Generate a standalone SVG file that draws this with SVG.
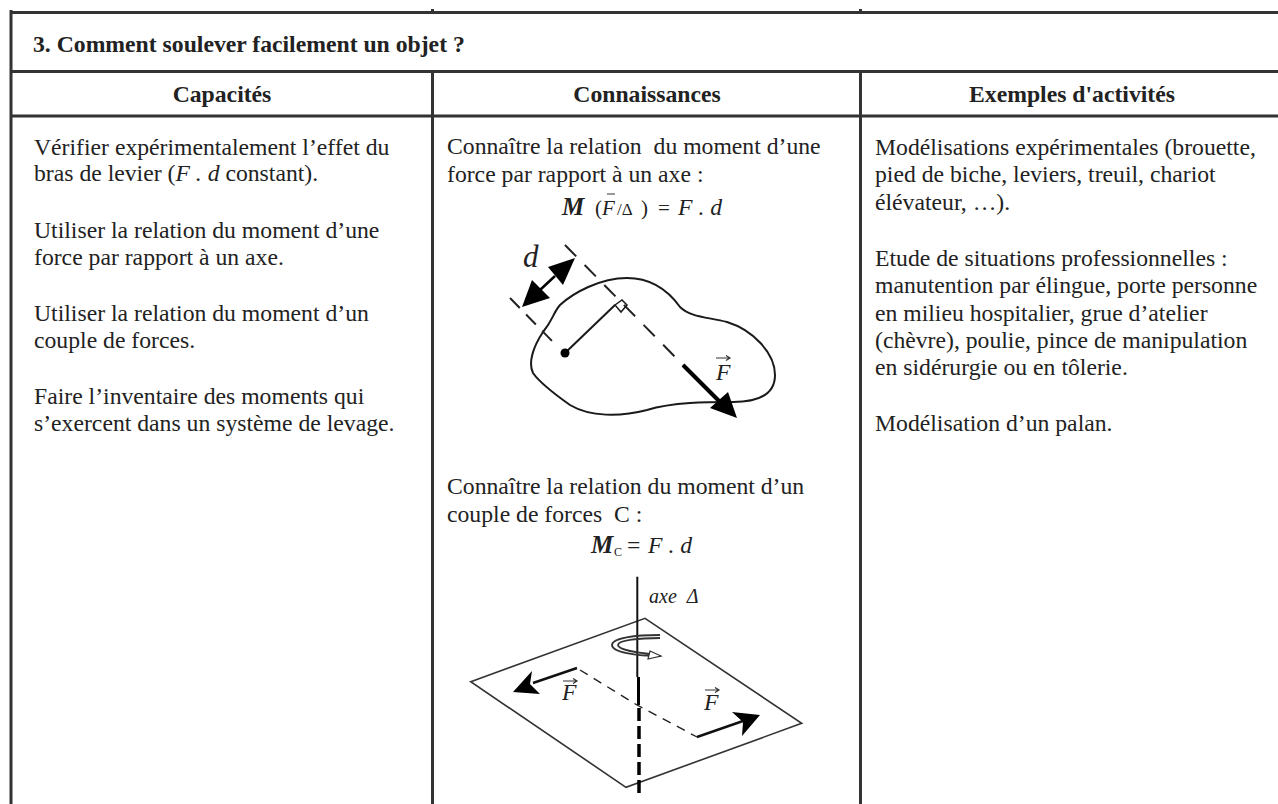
<svg xmlns="http://www.w3.org/2000/svg" width="1278" height="804" viewBox="0 0 1278 804">
<style>
text{font-family:"Liberation Serif","Times New Roman",serif;font-size:23.7px;fill:#222}
.b{font-weight:700}
.m{text-anchor:middle}
.i{font-style:italic}
.rule{stroke:#333;stroke-width:3;fill:none}
.ln{stroke:#1a1a1a;stroke-width:2;fill:none}
.gr{stroke:#333;stroke-width:1.6;fill:none}
.vec{stroke:#333;stroke-width:1.200;fill:none}
.dash{stroke:#222;stroke-width:2;fill:none;stroke-dasharray:16 12}
.fill{fill:#000;stroke:none}
</style>
<rect width="1278" height="804" fill="#fff"/>
<g id="table">
<path class="rule" d="M10,12.500H1278M10,71.500H1278M10,116H1278M11,10V804M432.500,71.500V804M860.500,71.500V804"/>
<path class="rule" d="M432.500,9V13M860.500,9V13"/>
</g>
<g id="head">
<text class="b" x="33" y="52">3. Comment soulever facilement un objet ?</text>
<text class="b m" x="222" y="102">Capacités</text>
<text class="b m" x="647" y="102">Connaissances</text>
<text class="b m" x="1072" y="102">Exemples d'activités</text>
</g>
<g id="col1">
<text x="34" y="155">Vérifier expérimentalement l’effet du</text>
<text x="34" y="181">bras de levier (<tspan class="i">F . d</tspan> constant).</text>
<text x="34" y="238">Utiliser la relation du moment d’une</text>
<text x="34" y="265">force par rapport à un axe.</text>
<text x="34" y="321">Utiliser la relation du moment d’un</text>
<text x="34" y="348">couple de forces.</text>
<text x="34" y="404">Faire l’inventaire des moments qui</text>
<text x="34" y="431">s’exercent dans un système de levage.</text>
</g>
<g id="col2">
<text x="447" y="154" xml:space="preserve">Connaître la relation  du moment d’une</text>
<text x="447" y="182">force par rapport à un axe :</text>
<text class="i b" x="562" y="215" style="font-size:25px">M</text>
<text x="595" y="215" style="font-size:21px">(</text><text class="i" x="602" y="215" style="font-size:21px">F</text>
<path class="vec" d="M607,194H615" style="stroke-width:1"/>
<text x="617" y="215" style="font-size:17px">/Δ</text>
<text x="641" y="215" style="font-size:21px">)</text><text x="658" y="215" style="font-size:21px">=</text><text class="i" x="678" y="215">F . d</text>
<text x="447" y="494">Connaître la relation du moment d’un</text>
<text x="447" y="522" xml:space="preserve">couple de forces  C :</text>
<text class="i b" x="591" y="553" style="font-size:25px">M</text>
<text x="614" y="556" style="font-size:12px">C</text>
<text x="627" y="553">=</text><text class="i" x="648" y="553">F . d</text>
</g>
<g id="col3">
<text x="875" y="155">Modélisations expérimentales (brouette,</text>
<text x="875" y="182">pied de biche, leviers, treuil, chariot</text>
<text x="875" y="210">élévateur, …).</text>
<text x="875" y="266">Etude de situations professionnelles :</text>
<text x="875" y="293">manutention par élingue, porte personne</text>
<text x="875" y="321">en milieu hospitalier, grue d’atelier</text>
<text x="875" y="348">(chèvre), poulie, pince de manipulation</text>
<text x="875" y="375">en sidérurgie ou en tôlerie.</text>
<text x="875" y="431">Modélisation d’un palan.</text>
</g>
<g id="fig-moment">
<path class="ln" d="M560,305C573,293 600,278 627,278C653,278 670,293 680,307C690,317 707,317 727,322C753,330 775,353 775,375C775,393 760,402 733,402C707,402 673,402 647,410C620,417 590,417 570,405C553,393 540,383 533,373C528,363 533,347 543,332C553,320 553,313 560,305Z"/>
<path class="dash" d="M565,245L683,365"/>
<path class="dash" d="M510,298L553,342" style="stroke-dasharray:14 9"/>
<path d="M683,365L722,404" stroke="#000" stroke-width="4" fill="none"/>
<path class="fill" d="M737,418L728,392L710,408Z"/>
<path d="M555,276L540,290" stroke="#000" stroke-width="2.5"/>
<path class="fill" d="M575,258L548,267L563,285Z"/>
<path class="fill" d="M522,307L532,280L550,298Z"/>
<path class="ln" d="M565,353L615,305"/>
<path class="ln" d="M615,305L622,300L627,305L621,312Z" style="stroke-width:1.500"/>
<circle class="fill" cx="565" cy="353" r="4.500"/>
<text class="i" x="523" y="267" style="font-size:31px">d</text>
<text class="i" x="716" y="380">F</text>
<path class="vec" d="M716,358H730M726,355.500L730,358L726,360.500"/>
</g>
<g id="fig-couple">
<path class="gr" d="M470.700,681.700L645,618.300L801.700,723.300L626,787.300Z"/>
<path d="M637.300,576.700V677" stroke="#111" stroke-width="2" fill="none"/>
<path d="M638.500,677V705" stroke="#000" stroke-width="3" fill="none"/>
<path d="M639,708V795" stroke="#000" stroke-width="3.500" stroke-dasharray="13 5" fill="none"/>
<path class="gr" d="M660,635C635,635 612,638 612,645C612,652 635,656 661,656M660,638C640,638 618,640 618,645C618,650 640,653 650,654" style="stroke-width:1.800"/>
<path d="M650,651L661,656L648,659Z" fill="#fff" stroke="#333" stroke-width="1.200"/>
<path d="M580,670L637,705L697,737" stroke="#222" stroke-width="1.400" stroke-dasharray="9 7" fill="none"/>
<path d="M577,668L533,683M697,737L743,721" stroke="#111" stroke-width="2.400" fill="none"/>
<path class="fill" d="M513,692L532,671L530,684L540,694Z"/>
<path class="fill" d="M760,715L732,712L743,722L742,736Z"/>
<text class="i" x="562" y="700">F</text>
<path class="vec" d="M563,681H577M573,678.500L577,681L573,683.500"/>
<text class="i" x="704" y="710">F</text>
<path class="vec" d="M705,690H719M715,687.500L719,690L715,692.500"/>
<text class="i" x="649" y="603" style="font-size:20px" xml:space="preserve">axe  Δ</text>
</g>
</svg>
